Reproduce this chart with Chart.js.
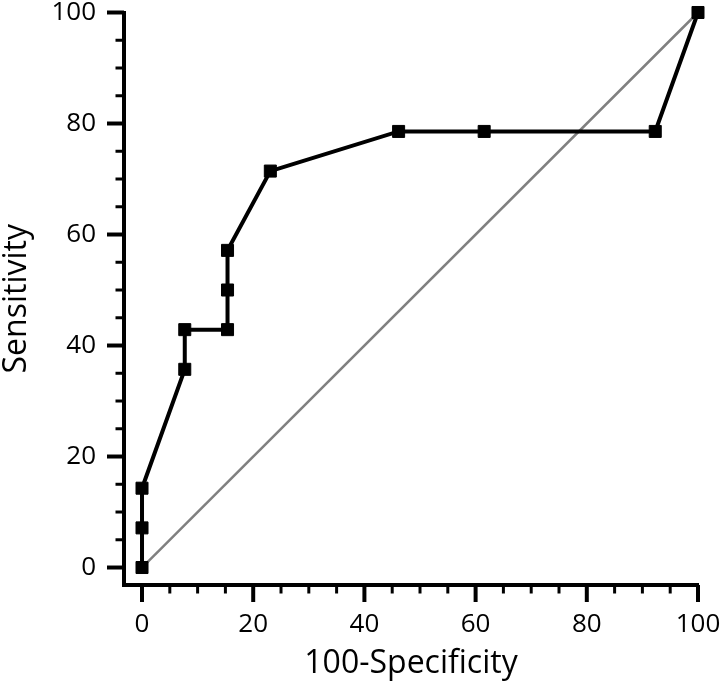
<!DOCTYPE html>
<html>
<head>
<meta charset="utf-8">
<script src="https://cdn.jsdelivr.net/npm/chart.js@4"></script>
<style>
  body { margin: 0; background: #fff; }
</style>
</head>
<body>
<canvas id="rocChart" width="724" height="684"></canvas>
<script>
// ROC curve data
var specCompl = [0, 0, 0, 7.69, 7.69, 15.38, 15.38, 15.38, 23.08, 46.15, 61.54, 92.31, 100];
var sensitivity = [0, 7.14, 14.29, 35.71, 42.86, 42.86, 50, 57.14, 71.43, 78.57, 78.57, 78.57, 100];
var diagX = [0, 100];
var diagY = [0, 100];
var tickValues = [0, 5, 10, 15, 20, 25, 30, 35, 40, 45, 50, 55, 60, 65, 70, 75, 80, 85, 90, 95, 100];

function toPoints(xs, ys) {
    return xs.map(function (x, i) { return { x: x, y: ys[i] }; });
}

// draws the major / minor tick marks outside the axes
var tickMarks = {
    id: 'tickMarks',
    afterDraw: function (chart) {
        var ctx = chart.ctx;
        var xs = chart.scales.x, ys = chart.scales.y;
        var area = chart.chartArea;
        ctx.save();
        ctx.strokeStyle = '#000';
        tickValues.forEach(function (v) {
            var major = v % 20 === 0;
            var len = major ? 17 : 8.5;
            ctx.lineWidth = major ? 4 : 3;
            var px = xs.getPixelForValue(v);
            ctx.beginPath();
            ctx.moveTo(px, area.bottom);
            ctx.lineTo(px, area.bottom + len);
            ctx.stroke();
            var py = ys.getPixelForValue(v);
            ctx.beginPath();
            ctx.moveTo(area.left, py);
            ctx.lineTo(area.left - len, py);
            ctx.stroke();
        });
        ctx.restore();
    }
};

function setTicks(scale) {
    scale.ticks = tickValues.map(function (v) { return { value: v }; });
}

function noPad(s) {
    s.paddingTop = 0; s.paddingBottom = 0; s.paddingLeft = 0; s.paddingRight = 0;
}

var labelCb = function (v) { return v % 20 === 0 ? String(v) : ''; };

var ctx = document.getElementById('rocChart').getContext('2d');
var rocChart = new Chart(ctx, {
    type: 'scatter',
    data: {
        datasets: [{
            data: toPoints(specCompl, sensitivity),
            showLine: true,
            borderColor: '#000',
            borderWidth: 4,
            pointStyle: 'rect',
            pointRadius: 8.5,
            pointBorderWidth: 1,
            pointBackgroundColor: '#000',
            pointBorderColor: '#000',
            clip: false
        }, {
            data: toPoints(diagX, diagY),
            showLine: true,
            borderColor: '#808080',
            borderWidth: 2.5,
            pointRadius: 0,
            clip: false
        }]
    },
    options: {
        responsive: false,
        animation: false,
        layout: { padding: { top: 12.5, right: 26, bottom: 0, left: 0 } },
        plugins: { legend: { display: false }, tooltip: { enabled: false } },
        scales: {
            x: {
                type: 'linear',
                min: -3.24,
                max: 100,
                afterBuildTicks: setTicks,
                afterFit: function (s) { s.height = 99; noPad(s); },
                grid: { display: false, drawTicks: false },
                border: { display: true, color: '#000', width: 4 },
                ticks: {
                    callback: labelCb, autoSkip: false, maxRotation: 0,
                    padding: 24, color: '#000',
                    font: { family: 'Open Sans', size: 26 }
                },
                title: {
                    display: true, text: '100-Specificity', color: '#000',
                    padding: { top: 0, bottom: 1 },
                    font: { family: 'Open Sans', size: 32, lineHeight: 1.2 }
                }
            },
            y: {
                type: 'linear',
                min: -3.15,
                max: 100,
                afterBuildTicks: setTicks,
                afterFit: function (s) { s.width = 124; noPad(s); },
                grid: { display: false, drawTicks: false },
                border: { display: true, color: '#000', width: 4 },
                ticks: {
                    callback: labelCb, autoSkip: false,
                    padding: 28, color: '#000',
                    font: { family: 'Open Sans', size: 26 }
                },
                title: {
                    display: true, text: 'Sensitivity', color: '#000',
                    padding: { top: 0, bottom: 0 },
                    font: { family: 'Open Sans', size: 32, lineHeight: 1.05 }
                }
            }
        }
    },
    plugins: [tickMarks]
});
</script>
</body>
</html>
